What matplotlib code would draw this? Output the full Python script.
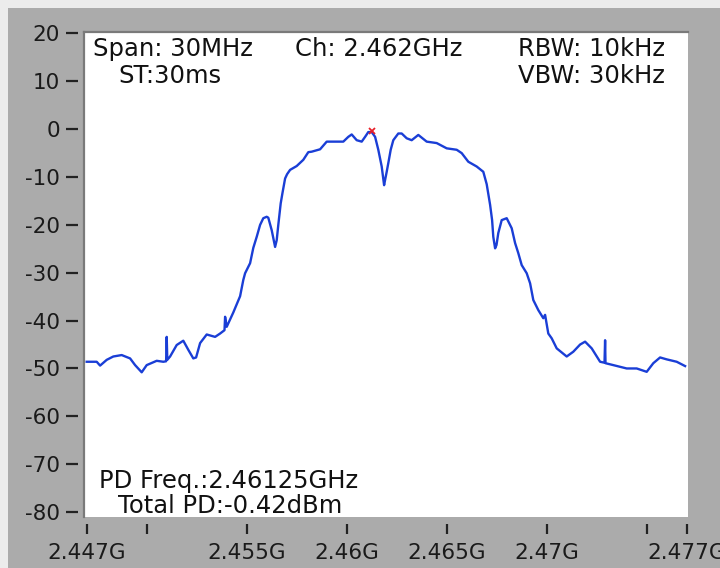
import matplotlib
matplotlib.use("Agg")
from matplotlib import pyplot as plt
from matplotlib.lines import Line2D
from matplotlib.patches import Rectangle

# trace (GHz, dBm)
freq = [2.44700, 2.44750, 2.44767, 2.44800, 2.44833, 2.44875, 2.44917, 2.44942,
        2.44975, 2.45000, 2.45050, 2.45083, 2.45097, 2.45100, 2.45103, 2.45117,
        2.45150, 2.45183, 2.45208, 2.45233, 2.45247, 2.45267, 2.45300, 2.45342,
        2.45367, 2.45389, 2.45392, 2.45400, 2.45433, 2.45467, 2.45483, 2.45492,
        2.45517, 2.45533, 2.45550, 2.45567, 2.45583, 2.45600, 2.45608, 2.45625,
        2.45642, 2.45650, 2.45658, 2.45670, 2.45679, 2.45692, 2.45702, 2.45717,
        2.45750, 2.45783, 2.45808, 2.45825, 2.45867, 2.45900, 2.45942, 2.45983,
        2.46008, 2.46025, 2.46050, 2.46075, 2.46092, 2.46108, 2.46125, 2.46142,
        2.46158, 2.46175, 2.46187, 2.46192, 2.46200, 2.46208, 2.46220, 2.46233,
        2.46258, 2.46275, 2.46300, 2.46325, 2.46358, 2.46400, 2.46450, 2.46500,
        2.46550, 2.46575, 2.46608, 2.46650, 2.46683, 2.46700, 2.46717, 2.46727,
        2.46733, 2.46742, 2.46749, 2.46758, 2.46775, 2.46800, 2.46825, 2.46842,
        2.46858, 2.46875, 2.46900, 2.46917, 2.46933, 2.46958, 2.46983, 2.46992,
        2.47008, 2.47025, 2.47050, 2.47100, 2.47133, 2.47167, 2.47192, 2.47225,
        2.47267, 2.47289, 2.47292, 2.47294, 2.47333, 2.47400, 2.47450, 2.47500,
        2.47533, 2.47567, 2.47600, 2.47650, 2.47692]
level = [-48.6, -48.6, -49.4, -48.2, -47.5, -47.2, -47.9, -49.3,
         -50.8, -49.3, -48.4, -48.6, -48.5, -43.4, -48.2, -47.5,
         -45.1, -44.2, -46.1, -47.9, -47.7, -44.7, -42.9, -43.4,
         -42.7, -42.0, -39.2, -41.3, -38.3, -34.9, -31.5, -30.1,
         -28.0, -24.8, -22.5, -20.0, -18.6, -18.3, -18.5, -21.1,
         -24.6, -23.2, -20.0, -15.5, -13.3, -10.3, -9.4, -8.5,
         -7.7, -6.4, -4.8, -4.7, -4.2, -2.6, -2.6, -2.6,
         -1.6, -1.1, -2.3, -2.6, -1.6, -0.6, -0.6, -1.6,
         -4.3, -7.8, -11.7, -10.6, -8.9, -7.1, -4.3, -2.3,
         -0.9, -0.9, -1.9, -2.3, -1.2, -2.6, -2.9, -4.0,
         -4.3, -5.0, -6.8, -7.8, -8.9, -11.5, -15.8, -19.0,
         -22.5, -24.9, -24.2, -21.7, -19.0, -18.6, -20.7, -23.8,
         -25.9, -28.4, -30.1, -32.2, -35.7, -37.8, -39.5, -38.8,
         -42.7, -43.7, -45.8, -47.5, -46.5, -45.0, -44.4, -45.8,
         -48.6, -48.8, -44.1, -48.9, -49.3, -50.0, -50.0, -50.7,
         -48.9, -47.7, -48.1, -48.6, -49.5]

peak_freq = 2.46125
peak_level = -0.42

xticks = [2.447, 2.450, 2.455, 2.460, 2.465, 2.470, 2.475, 2.477]
xlabels = ['2.447G', '', '2.455G', '2.46G', '2.465G', '2.47G', '', '2.477G']
yticks = [20, 10, 0, -10, -20, -30, -40, -50, -60, -70, -80]
ylabels = ['20', '10', '0', '-10', '-20', '-30', '-40', '-50', '-60', '-70', '-80']

W, H = 720, 568
fig = plt.figure(figsize=(7.2, 5.68), dpi=100, facecolor='#ececec')

# grey panel behind the plot
fig.add_artist(Rectangle((8 / W, 0), 1, 1 - 8 / H, transform=fig.transFigure,
                         facecolor='#ababab', edgecolor='none', zorder=-5))

ax = fig.add_axes([85 / W, 1 - 517 / H, 603 / W, 485 / H])
ax.set_facecolor('white')
ax.plot(freq, level, color='#1a3ed6', lw=1.7)
ax.plot([peak_freq], [peak_level], 'x', color='#e8202a', ms=5, mew=1.3)

ax.set_xlim(2.446915, 2.477065)
ax.set_ylim(-81.04, 20.31)

for s in ['top', 'right']:
    ax.spines[s].set_visible(False)
for s in ['left', 'bottom']:
    ax.spines[s].set_position(('outward', 5))
    ax.spines[s].set_color('none')

ax.set_xticks(xticks)
ax.set_xticklabels(xlabels)
ax.set_yticks(yticks)
ax.set_yticklabels(ylabels)
ax.tick_params(axis='y', length=9, width=1.6, color='#222222', pad=4,
               labelsize=15.5, labelcolor='#1a1a1a')
ax.tick_params(axis='x', length=7.5, width=1.6, color='#222222', pad=6,
               labelsize=15.5, labelcolor='#1a1a1a')

# sunken frame edges
fig.add_artist(Line2D([84 / W, 688 / W], [1 - 32 / H, 1 - 32 / H], color='#7a7a7a', lw=1.6))
fig.add_artist(Line2D([84 / W, 84 / W], [1 - 32 / H, 1 - 517 / H], color='#7a7a7a', lw=1.6))

fs = 17.5
def label(x, y, s, ha='left'):
    fig.text(x / W, 1 - y / H, s, ha=ha, va='baseline', fontsize=fs, color='#111111')

label(93, 56, 'Span: 30MHz')
label(118, 83, 'ST:30ms')
label(295, 56, 'Ch: 2.462GHz')
label(665, 56, 'RBW: 10kHz', ha='right')
label(665, 83, 'VBW: 30kHz', ha='right')
label(99, 488, 'PD Freq.:2.46125GHz')
label(118, 513, 'Total PD:-0.42dBm')

fig.savefig('out.png', dpi=100, facecolor=fig.get_facecolor())
